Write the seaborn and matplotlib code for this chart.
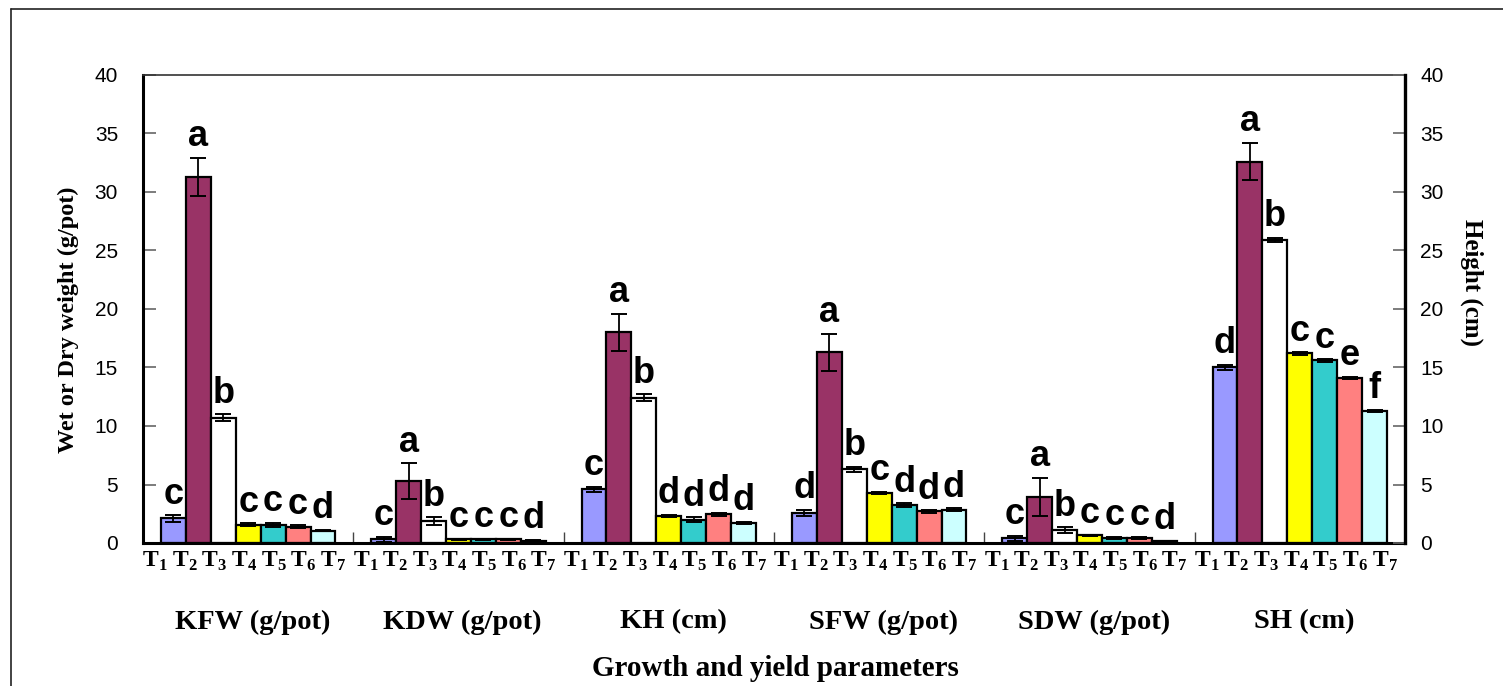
import numpy as np
import pandas as pd
import matplotlib
matplotlib.use("Agg")
import matplotlib.pyplot as plt
import seaborn as sns
from matplotlib.lines import Line2D

# ---------------- data ----------------
params = ["KFW (g/pot)", "KDW (g/pot)", "KH (cm)", "SFW (g/pot)", "SDW (g/pot)", "SH (cm)"]
treatments = ["T1", "T2", "T3", "T4", "T5", "T6", "T7"]
tick_labels = [r"$\mathbf{T}_{\mathbf{%d}}$" % i for i in range(1, 8)]

kfw = [2.1, 31.3, 10.7, 1.55, 1.55, 1.4, 1.05]
kdw = [0.3, 5.3, 1.85, 0.3, 0.3, 0.3, 0.2]
kh = [4.6, 18.0, 12.4, 2.3, 2.0, 2.45, 1.7]
sfw = [2.6, 16.3, 6.3, 4.3, 3.25, 2.7, 2.85]
sdw = [0.4, 3.95, 1.1, 0.65, 0.4, 0.4, 0.15]
sh = [15.0, 32.6, 25.9, 16.2, 15.6, 14.1, 11.3]

kfw_err = [0.27, 1.6, 0.3, 0.12, 0.15, 0.1, 0.05]
kdw_err = [0.2, 1.5, 0.35, 0.08, 0.08, 0.08, 0.05]
kh_err = [0.2, 1.6, 0.3, 0.1, 0.2, 0.1, 0.1]
sfw_err = [0.25, 1.6, 0.2, 0.1, 0.15, 0.1, 0.1]
sdw_err = [0.2, 1.6, 0.25, 0.05, 0.1, 0.1, 0.05]
sh_err = [0.25, 1.6, 0.2, 0.1, 0.1, 0.1, 0.1]

kfw_lett = ["c", "a", "b", "c", "c", "c", "d"]
kdw_lett = ["c", "a", "b", "c", "c", "c", "d"]
kh_lett = ["c", "a", "b", "d", "d", "d", "d"]
sfw_lett = ["d", "a", "b", "c", "d", "d", "d"]
sdw_lett = ["c", "a", "b", "c", "c", "c", "d"]
sh_lett = ["d", "a", "b", "c", "c", "e", "f"]

colors = ["#9999FF", "#993366", "#FFFFFF", "#FFFF00", "#33CCCC", "#FF8080", "#CCFFFF"]

values = [kfw, kdw, kh, sfw, sdw, sh]
errors = [kfw_err, kdw_err, kh_err, sfw_err, sdw_err, sh_err]
letters = [kfw_lett, kdw_lett, kh_lett, sfw_lett, sdw_lett, sh_lett]

rows = []
for p, vals in zip(params, values):
    for t, v in zip(treatments, vals):
        rows.append({"param": p, "treatment": t, "value": v})
df = pd.DataFrame(rows)

# ---------------- style ----------------
sns.set_style("ticks")
plt.rcParams["font.family"] = ["Liberation Sans", "DejaVu Sans"]
plt.rcParams["mathtext.fontset"] = "custom"
plt.rcParams["mathtext.bf"] = "Liberation Serif:bold"
plt.rcParams["mathtext.rm"] = "Liberation Serif:bold"
for k in ["text.color", "axes.labelcolor", "xtick.color", "ytick.color",
          "xtick.labelcolor", "ytick.labelcolor"]:
    plt.rcParams[k] = "black"

W, H = 1503, 686
fig = plt.figure(figsize=(W / 100, H / 100), dpi=100)
ax_l, ax_r, ax_t, ax_b = 143, 1405, 75, 543
ax = fig.add_axes([ax_l / W, 1 - ax_b / H, (ax_r - ax_l) / W, (ax_b - ax_t) / H])

sns.barplot(data=df, x="param", y="value", hue="treatment", order=params,
            hue_order=treatments, palette=colors, saturation=1, width=0.83,
            gap=0, edgecolor="black", linewidth=1.6, errorbar=None,
            legend=False, ax=ax)

ax.set_xlim(-0.5, 5.5)
ax.set_ylim(0, 40)

# map patches to (group, treatment)
bars = [p for p in ax.patches if p.get_width() > 0]
centers = {}
for p in bars:
    xc = p.get_x() + p.get_width() / 2
    g = int(round(xc))
    centers.setdefault(g, []).append((xc, p.get_height()))
xs, ys, es, labs, lx, ly = [], [], [], [], [], []
for g in range(len(params)):
    items = sorted(centers[g])
    for ti, (xc, h) in enumerate(items):
        e = errors[g][ti]
        xs.append(xc); ys.append(h); es.append(e)
        lx.append(xc); ly.append(h + e + 1.0)
        labs.append(letters[g][ti])

ax.errorbar(xs, ys, yerr=es, fmt="none", ecolor="black", elinewidth=1.3,
            capsize=5.5, capthick=1.4, zorder=5)

for x, y, s in zip(lx, ly, labs):
    ax.text(x, y, s, ha="center", va="baseline", fontsize=26,
            fontweight="bold", color="black", family=["Liberation Sans", "DejaVu Sans"])

# x ticks: T labels spread under each group, minor ticks at group boundaries
label_step = 0.141
tick_pos = [g - 0.02 + (i - 3) * label_step for g in range(len(params)) for i in range(7)]
ax.set_xticks(tick_pos)
ax.set_xticklabels(tick_labels * len(params), fontsize=17)
ax.tick_params(axis="x", which="major", length=0, pad=5)
ax.set_xticks(np.arange(0.5, 5.5, 1), minor=True)
ax.tick_params(axis="x", which="minor", length=8, direction="in", width=1, color="#444444")
ax.set_xlabel("")
ax.set_ylabel("")

# y ticks
ax.set_yticks(np.arange(0, 41, 5))
ax.tick_params(axis="y", direction="in", length=9, width=1.2, color="#666666",
               labelsize=15, pad=18)
for s in ["left", "bottom"]:
    ax.spines[s].set_linewidth(2.2)
    ax.spines[s].set_color("black")
ax.spines["top"].set_linewidth(1.2)
ax.spines["top"].set_color("#333333")
ax.spines["right"].set_visible(False)

ax2 = ax.twinx()
ax2.set_ylim(0, 40)
ax2.set_yticks(np.arange(0, 41, 5))
ax2.tick_params(axis="y", direction="in", length=9, width=1.2, color="#666666",
                labelsize=15, pad=11)
for s in ["left", "top", "bottom"]:
    ax2.spines[s].set_visible(False)
ax2.spines["right"].set_linewidth(2.4)
ax2.spines["right"].set_color("black")

# group labels
serif_b = dict(family=["Liberation Serif", "DejaVu Serif"], fontweight="bold", color="black")
for g, p in enumerate(params):
    ax.text(g + 0.02, -(622 - ax_b) / (ax_b - ax_t), p, transform=ax.get_xaxis_transform(),
            ha="center", va="center", fontsize=20.5, **serif_b)

fig.text(775 / W, 1 - 668 / H, "Growth and yield parameters", ha="center",
         va="center", fontsize=21, **serif_b)
fig.text(68 / W, 1 - 320 / H, "Wet or Dry weight (g/pot)", rotation=90,
         ha="center", va="center", fontsize=17.5, **serif_b)
fig.text(1472 / W, 1 - 283 / H, "Height (cm)", rotation=-90,
         ha="center", va="center", fontsize=18, **serif_b)

# outer frame (left and top edges)
fig.add_artist(Line2D([11 / W, 1.0], [1 - 9 / H, 1 - 9 / H], transform=fig.transFigure,
                      color="#222222", lw=1.2))
fig.add_artist(Line2D([11 / W, 11 / W], [0, 1 - 9 / H], transform=fig.transFigure,
                      color="#222222", lw=1.2))

fig.savefig("out.png", dpi=100)
